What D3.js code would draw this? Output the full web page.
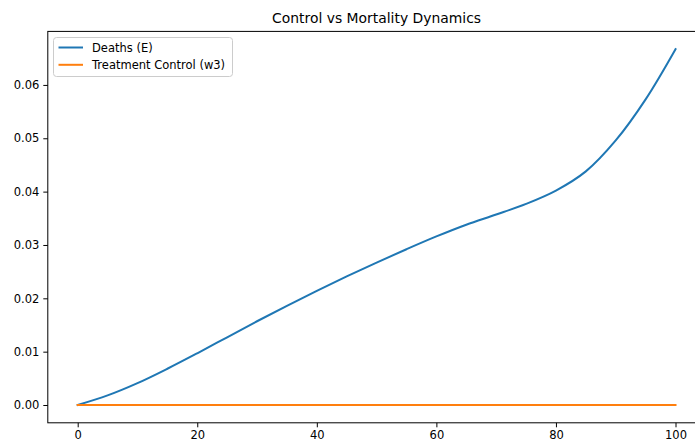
<!DOCTYPE html>
<html>
<head>
<meta charset="utf-8">
<script src="https://cdn.jsdelivr.net/npm/d3@7"></script>
<style>
  html, body { margin: 0; padding: 0; background: #fff; overflow: hidden; }
  svg { display: block; font-family: "DejaVu Sans", sans-serif; }
</style>
</head>
<body>
<svg id="chart" width="695" height="441"></svg>
<script>
// ---- data ----
const timeSteps = [0, 5, 10, 15, 20, 25, 30, 35, 40, 45, 50, 55, 60, 65, 70, 75, 80, 85, 90, 95, 100];
const deaths = [0, 0.0018, 0.0041, 0.0068, 0.0097, 0.0127, 0.0157, 0.0186, 0.0214, 0.0241, 0.0267, 0.0292, 0.0316, 0.0338, 0.0357, 0.0377, 0.0402, 0.0438, 0.0496, 0.0573, 0.0667];
const treatment = [0, 0, 0, 0, 0, 0, 0, 0, 0, 0, 0, 0, 0, 0, 0, 0, 0, 0, 0, 0, 0];
const seriesNames = ["Deaths (E)", "Treatment Control (w3)"];
const seriesColors = ["#1f77b4", "#ff7f0e"];
const xTicks = [0, 20, 40, 60, 80, 100];
const yTicks = [0, 0.01, 0.02, 0.03, 0.04, 0.05, 0.06];
const chartTitle = "Control vs Mortality Dynamics";

// ---- layout ----
const plotLeft = 47.8, plotRight = 705.4, plotTop = 31.4, plotBottom = 422.8;
const svg = d3.select("#chart");

const xMin = d3.min(timeSteps), xMax = d3.max(timeSteps);
const xPad = (xMax - xMin) * 0.05;
const x = d3.scaleLinear().domain([xMin - xPad, xMax + xPad]).range([plotLeft, plotRight]);
const yAll = deaths.concat(treatment);
const yMin = d3.min(yAll), yMax = d3.max(yAll);
const yPad = (yMax - yMin) * 0.05;
const y = d3.scaleLinear().domain([yMin - yPad, yMax + yPad]).range([plotBottom, plotTop]);

// lines
const series = [deaths, treatment];
const line = d3.line().x((d, i) => x(timeSteps[i])).y(d => y(d)).curve(d3.curveCatmullRom.alpha(0.5));
series.forEach((s, k) => {
  svg.append("path")
    .datum(s)
    .attr("d", line)
    .attr("fill", "none")
    .attr("stroke", seriesColors[k])
    .attr("stroke-width", 2)
    .attr("stroke-linecap", "square");
});

// spines
svg.append("rect")
  .attr("x", plotLeft).attr("y", plotTop)
  .attr("width", plotRight - plotLeft).attr("height", plotBottom - plotTop)
  .attr("fill", "none").attr("stroke", "#000").attr("stroke-width", 1);

// axes
const xAxis = svg.append("g")
  .attr("transform", `translate(0,${plotBottom})`)
  .call(d3.axisBottom(x).tickValues(xTicks).tickFormat(d3.format("d")).tickSize(4.5).tickPadding(4));
const yAxis = svg.append("g")
  .attr("transform", `translate(${plotLeft},0)`)
  .call(d3.axisLeft(y).tickValues(yTicks).tickFormat(d3.format(".2f")).tickSize(4.5).tickPadding(4));
[xAxis, yAxis].forEach(a => {
  a.select(".domain").remove();
  a.selectAll("text").attr("font-family", "DejaVu Sans, sans-serif").attr("font-size", 11.5).attr("fill", "#000");
  a.selectAll("line").attr("stroke", "#000").attr("stroke-width", 1);
});

// title
svg.append("text")
  .attr("x", (plotLeft + plotRight) / 2).attr("y", plotTop - 8)
  .attr("text-anchor", "middle")
  .attr("font-size", 13.9).attr("fill", "#000")
  .text(chartTitle);

// legend
const lg = svg.append("g");
lg.append("rect")
  .attr("x", 53.5).attr("y", 37.5).attr("width", 179).attr("height", 39)
  .attr("rx", 3).attr("ry", 3)
  .attr("fill", "#fff").attr("fill-opacity", 0.8)
  .attr("stroke", "#cccccc").attr("stroke-width", 1);
seriesNames.forEach((name, i) => {
  const yy = 47.5 + i * 17.3;
  lg.append("line")
    .attr("x1", 58.5).attr("x2", 83).attr("y1", yy).attr("y2", yy)
    .attr("stroke", seriesColors[i]).attr("stroke-width", 2);
  lg.append("text")
    .attr("x", 92).attr("y", yy + 4.2)
    .attr("font-size", 11.5).attr("fill", "#000")
    .text(name);
});
</script>
</body>
</html>
